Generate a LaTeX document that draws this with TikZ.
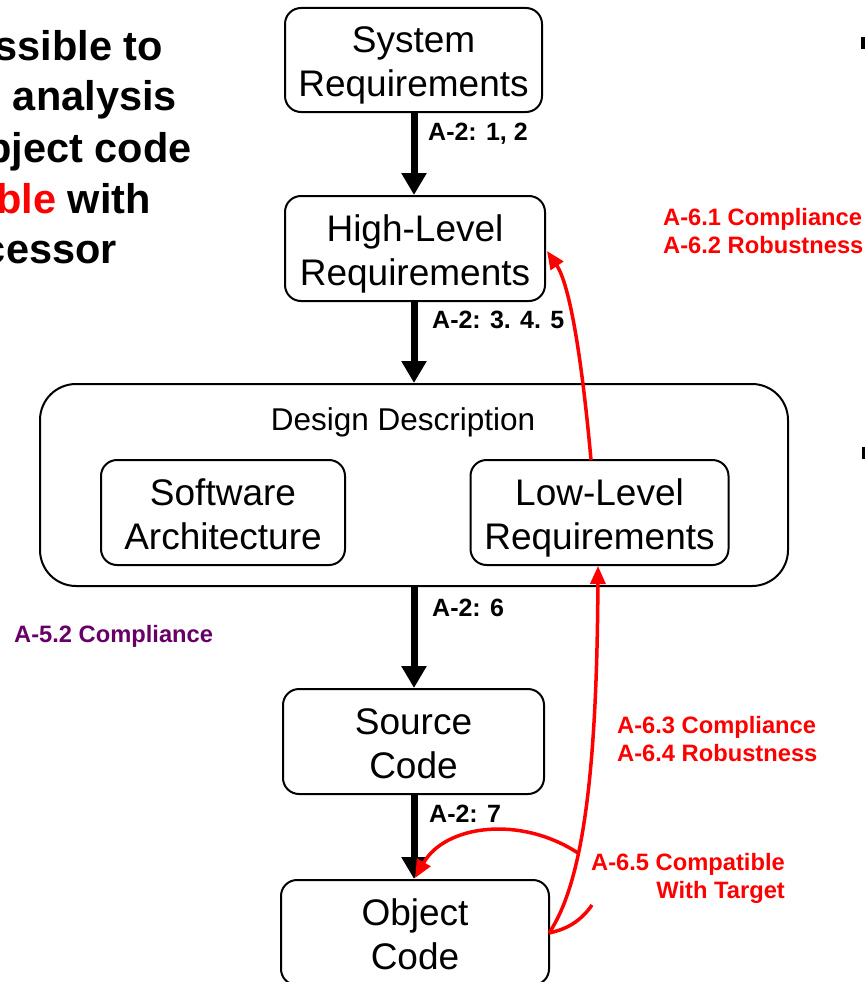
\documentclass[tikz,border=0pt]{standalone}
\usepackage{fontspec}
\setmainfont{Liberation Sans}
\usetikzlibrary{arrows.meta}
\definecolor{ared}{RGB}{255,0,0}
\definecolor{apurple}{RGB}{102,0,102}
\newcommand{\boxtxt}[1]{\raisebox{0pt}[\dimexpr\height+12pt\relax][\depth]{\begin{tabular}{@{}c@{}}#1\end{tabular}}}
\begin{document}
\begin{tikzpicture}[x=1pt,y=-1pt,
  box/.style={draw, line width=2pt, rounded corners=16pt, inner sep=0pt, align=center,
    font=\fontsize{37}{44}\selectfont},
  bigbox/.style={draw, line width=2pt, rounded corners=36pt, inner sep=0pt},
  flow/.style={line width=7pt, -{Triangle[width=24pt,length=22pt]}},
  redarr/.style={draw=ared, line width=3.5pt, -{Triangle[width=15pt,length=18pt]}},
  redline/.style={draw=ared, line width=3.5pt},
  lab/.style={font=\fontsize{25}{30}\selectfont\bfseries, inner sep=0pt},
  rlab/.style={font=\fontsize{23.7}{28}\selectfont\bfseries, inner sep=0pt},
  title/.style={font=\fontsize{41.5}{50}\selectfont\bfseries, inner sep=0pt, anchor=base east}
]
\useasboundingbox (0,0) rectangle (865,982);

% title (clipped at left edge)
\node[title] (t1) at (163,60) {ssible to};
\node[title] (t2) at (177,110) {analysis};
\node[title] (t3) at (192,162) {bject code};
\node[title] (t4) at (151,213) {\textcolor{ared}{ble} with};
\node[title] (t5) at (117,263) {cessor};

% bullets cut at right edge
\fill (861,37) rectangle (865,49);
\fill (862,447) rectangle (865,459);

% boxes
\node[box, minimum width=257pt, minimum height=104pt] (sys) at (413.5,60) {\boxtxt{System\\Requirements}};
\node[box, minimum width=260pt, minimum height=105pt] (hlr) at (415,248.5) {\boxtxt{High-Level\\Requirements}};
\node[bigbox, minimum width=748pt, minimum height=202pt] (dd) at (414,485) {};
\node[font=\fontsize{31.5}{38}\selectfont, inner sep=0pt] (ddl) at (403,422) {Design Description};
\node[box, minimum width=244pt, minimum height=105pt] (sa) at (223,512.5) {\boxtxt{Software\\Architecture}};
\node[box, minimum width=258pt, minimum height=105pt] (llr) at (599.5,512.5) {\boxtxt{Low-Level\\Requirements}};
\node[box, minimum width=261pt, minimum height=105pt] (sc) at (413.5,741.5) {\boxtxt{Source\\Code}};
\node[box, minimum width=268pt, minimum height=105pt] (oc) at (415,932.5) {\boxtxt{Object\\Code}};

% black flow arrows
\draw[flow] (414,112) coordinate (s1) -- (s1 |- hlr.north);
\draw[flow] (414,301) coordinate (s2) -- (s2 |- dd.north);
\draw[flow] (414,586) coordinate (s3) -- (s3 |- sc.north);
\draw[flow] (414,794) coordinate (s4) -- (s4 |- oc.north);

% black labels
\node[lab, anchor=base west] (l1) at (428,140) {A-2: 1, 2};
\node[lab, anchor=base west] (l2) at (432,328) {A-2: 3. 4. 5};
\node[lab, anchor=base west] (l3) at (432,616) {A-2: 6};
\node[lab, anchor=base west] (l4) at (429,822) {A-2: 7};

% red labels
\node[rlab, text=ared, anchor=base west] (r1) at (663,225) {A-6.1 Compliance};
\node[rlab, text=ared, anchor=base west] (r2) at (663,253) {A-6.2 Robustness};
\node[rlab, text=ared, anchor=base west] (r3) at (617,733) {A-6.3 Compliance};
\node[rlab, text=ared, anchor=base west] (r4) at (617,761) {A-6.4 Robustness};
\node[rlab, text=ared, anchor=base east] (r5) at (785,870) {A-6.5 Compatible};
\node[rlab, text=ared, anchor=base east] (r6) at (785,898) {With Target};
\node[rlab, text=apurple, anchor=base west] (p1) at (14,642) {A-5.2 Compliance};

% red connectors
\coordinate (llrtop) at (591,460);
\coordinate (hlrr) at (547,251);
\draw[redarr] (llrtop) .. controls (582,360) and (570,285) .. (hlrr);
\coordinate (ocr) at (549,933);
\coordinate (llrbot) at (598,566);
\draw[redarr] (ocr) .. controls (585,880) and (597,760) .. (llrbot);
\coordinate (hook) at (592,905);
\draw[redline] (hook) .. controls (578,925) and (562,930) .. (ocr);
\coordinate (c65) at (578,853);
\coordinate (octop) at (415,878);
\draw[redarr] (c65) .. controls (520,815) and (445,825) .. (octop);
\end{tikzpicture}
\end{document}
